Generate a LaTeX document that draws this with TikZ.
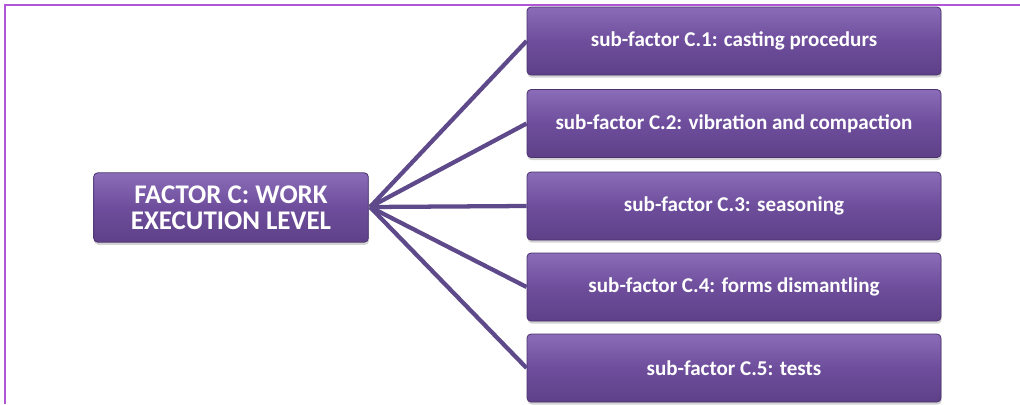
\documentclass[tikz,border=0pt]{standalone}
\usepackage{fontspec}
\setmainfont{Carlito}
\usetikzlibrary{shadows}
\definecolor{boxtop}{HTML}{8A6CB8}
\definecolor{boxmid}{HTML}{6E4E9C}
\definecolor{boxbot}{HTML}{5E4088}
\definecolor{linec}{HTML}{5E4A8A}
\definecolor{framec}{HTML}{B055D5}
\tikzset{
  pbox/.style={draw=boxbot!80!black, line width=0.6pt, rounded corners=3pt,
    top color=boxtop, bottom color=boxbot, middle color=boxmid,
    text=white, font=\bfseries, align=center, inner sep=0pt,
    drop shadow={shadow xshift=0.5pt, shadow yshift=-2pt, opacity=0.35}},
  subbox/.style={pbox, minimum width=310.5pt, minimum height=51pt, font=\bfseries\fontsize{15.8}{18}\selectfont},
  mainbox/.style={pbox, minimum width=206pt, minimum height=52pt, font=\bfseries\fontsize{20.2}{19.5}\selectfont},
  conn/.style={draw=linec, line width=3.2pt}
}
\begin{document}
\begin{tikzpicture}[x=0.75pt,y=-0.75pt]
\useasboundingbox (0,0) rectangle (1020,404);
\draw[framec, line width=1.8pt] (5,404) -- (5,5) -- (1020,5);
\node[mainbox] (main) at (231,207.5) {FACTOR C: WORK\\EXECUTION LEVEL};
\node[subbox] (c1) at (734,41) {sub-factor C.1: casting procedurs};
\node[subbox] (c2) at (734,123.5) {sub-factor C.2: vibration and compaction};
\node[subbox] (c3) at (734,206) {sub-factor C.3: seasoning};
\node[subbox] (c4) at (734,287) {sub-factor C.4: forms dismantling};
\node[subbox] (c5) at (734,368) {sub-factor C.5: tests};
\coordinate (hub) at (370,207);
\foreach \n in {c1,c2,c3,c4,c5}{
  \draw[conn] (hub) -- (\n.west);
}
\end{tikzpicture}
\end{document}
